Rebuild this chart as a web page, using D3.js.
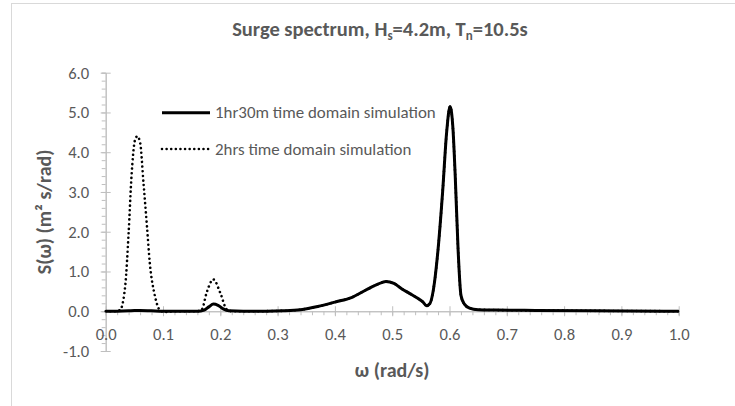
<!DOCTYPE html>
<html>
<head>
<meta charset="utf-8">
<style>
  body {
    margin: 0px;
    background: #fff
  }
  text {
    font-family: Carlito, "Liberation Sans", Arial, sans-serif;
    fill: #595959
  }
</style>
<script type="text/javascript" src="https://cdnjs.cloudflare.com/ajax/libs/d3/7.8.5/d3.min.js"></script>
</head>
<body>
<svg id="chart"></svg>
<script type="text/javascript">
let width = 735,
    height = 406

// 1hr30m run (solid)
let omega30 = [0, 0.02, 0.04, 0.05, 0.06, 0.08, 0.10, 0.13, 0.16, 0.172, 0.18, 0.188, 0.196, 0.205, 0.215, 0.24, 0.28,
               0.31, 0.34, 0.37, 0.40, 0.43, 0.455, 0.475, 0.489, 0.503, 0.517, 0.53, 0.543, 0.553, 0.560, 0.566,
               0.572, 0.580, 0.588, 0.595, 0.601, 0.606, 0.610, 0.615, 0.620, 0.626, 0.635, 0.65, 0.68, 0.75, 0.85, 1.0]
let spec30  = [0, 0, 0.01, 0.02, 0.02, 0.01, 0, 0, 0, 0.03, 0.11, 0.18, 0.15, 0.06, 0.01, 0, 0,
               0.01, 0.04, 0.12, 0.23, 0.35, 0.54, 0.68, 0.75, 0.70, 0.56, 0.45, 0.34, 0.24, 0.14, 0.2,
               0.55, 1.55, 3.0, 4.5, 5.15, 4.6, 3.4, 1.55, 0.4, 0.18, 0.08, 0.04, 0.03, 0.02, 0.01, 0]

// 2hrs run (dotted)
let omega2h = [0, 0.015, 0.025, 0.034, 0.040, 0.045, 0.051, 0.055, 0.060, 0.066, 0.072, 0.077, 0.086, 0.095, 0.103,
               0.12, 0.16, 0.168, 0.176, 0.188, 0.200, 0.211, 0.22, 0.26,
               0.31, 0.34, 0.37, 0.40, 0.43, 0.455, 0.475, 0.489, 0.503, 0.517, 0.53, 0.543, 0.553, 0.560, 0.566,
               0.572, 0.580, 0.588, 0.595, 0.601, 0.606, 0.610, 0.615, 0.620, 0.626, 0.635, 0.65, 0.68, 0.75, 0.85, 1.0]
let spec2h  = [0, 0, 0.03, 0.63, 1.97, 3.39, 4.3, 4.4, 4.25, 3.22, 2.14, 1.21, 0.38, 0.02, -0.02,
               0, 0, 0.05, 0.46, 0.8, 0.46, 0.05, 0, 0,
               0.01, 0.04, 0.12, 0.23, 0.35, 0.54, 0.68, 0.75, 0.70, 0.56, 0.45, 0.34, 0.24, 0.14, 0.2,
               0.55, 1.55, 3.0, 4.5, 5.15, 4.6, 3.4, 1.55, 0.4, 0.18, 0.08, 0.04, 0.03, 0.02, 0.01, 0]

let seriesNames = ['1hr30m time domain simulation', '2hrs time domain simulation']
let xTicks = d3.range(0, 1.0001, 0.1)
let yTicks = d3.range(-1, 6.0001, 1)

let svg = d3.select('#chart')
      .attr('width', width)
      .attr('height', height)

svg.append('rect')
   .attr('x', 11.5).attr('y', 3.5)
   .attr('width', 760).attr('height', 420)
   .attr('fill', '#fff')
   .attr('stroke', '#d9d9d9')

let x = d3.scaleLinear().domain([0, 1]).range([105.7, 678.7])
let y = d3.scaleLinear().domain([-1, 6]).range([351, 72.7])

let axisColor = '#bfbfbf'
let font = 'Carlito, "Liberation Sans", Arial, sans-serif'

// y axis: minor ticks outside, major ticks crossing
let yMinor = svg.append('g')
   .attr('transform', 'translate(' + x(0) + ',0)')
   .call(d3.axisLeft(y).tickValues(d3.range(-1, 6.0001, 0.2)).tickSize(4).tickFormat(''))
let yMajor = svg.append('g')
   .attr('transform', 'translate(' + x(0) + ',0)')
   .call(d3.axisLeft(y).tickValues(yTicks).tickSizeInner(5).tickSizeOuter(0).tickPadding(11.5)
          .tickFormat(function(d) { return d.toFixed(1) }))
yMajor.selectAll('.tick line').attr('x1', 5)

// x axis at y = 0
let xMinor = svg.append('g')
   .attr('transform', 'translate(0,' + y(0) + ')')
   .call(d3.axisBottom(x).tickValues(d3.range(0, 1.0001, 0.02)).tickSize(4).tickFormat(''))
let xMajor = svg.append('g')
   .attr('transform', 'translate(0,' + y(0) + ')')
   .call(d3.axisBottom(x).tickValues(xTicks).tickSizeInner(5).tickSizeOuter(0).tickPadding(12)
          .tickFormat(function(d) { return d.toFixed(1) }))
xMajor.selectAll('.tick line').attr('y1', -5)

svg.selectAll('.domain, .tick line').attr('stroke', axisColor)
svg.selectAll('.tick text')
   .attr('fill', '#595959')
   .style('font-size', '16.6px')
   .style('font-family', font)

let line = d3.line()
    .x(function(d) { return x(d[0]) })
    .y(function(d) { return y(d[1]) })
    .curve(d3.curveMonotoneX)

svg.append('path')
   .datum(d3.zip(omega30, spec30))
   .attr('fill', 'none')
   .attr('stroke', '#000')
   .attr('stroke-width', 3)
   .attr('stroke-linejoin', 'round')
   .attr('d', line)

let dots = '0.01 4.6'

svg.append('path')
   .datum(d3.zip(omega2h, spec2h))
   .attr('fill', 'none')
   .attr('stroke', '#000')
   .attr('stroke-width', 2.6)
   .attr('stroke-linecap', 'round')
   .attr('stroke-dasharray', dots)
   .attr('d', line)

// legend
let legend = svg.append('g')
let legendY = [112.7, 149]
legend.selectAll('line')
   .data(seriesNames)
   .enter()
   .append('line')
   .attr('x1', 162).attr('x2', 210)
   .attr('y1', function(d, i) { return legendY[i] })
   .attr('y2', function(d, i) { return legendY[i] })
   .attr('stroke', '#000')
   .attr('stroke-width', function(d, i) { return i == 0 ? 3 : 2.6 })
   .attr('stroke-linecap', function(d, i) { return i == 0 ? 'butt' : 'round' })
   .attr('stroke-dasharray', function(d, i) { return i == 0 ? null : dots })
legend.selectAll('text')
   .data(seriesNames)
   .enter()
   .append('text')
   .attr('x', 215)
   .attr('y', function(d, i) { return legendY[i] })
   .attr('dy', '0.34em')
   .style('font-size', '16.9px')
   .text(function(d) { return d })

// title
let title = svg.append('text')
   .attr('x', 380).attr('y', 36)
   .attr('text-anchor', 'middle')
   .style('font-size', '20.5px')
   .style('font-weight', 'bold')
title.append('tspan').text('Surge spectrum, H')
title.append('tspan').attr('dy', 4).style('font-size', '13px').text('s')
title.append('tspan').attr('dy', -4).text('=4.2m, T')
title.append('tspan').attr('dy', 4).style('font-size', '13px').text('n')
title.append('tspan').attr('dy', -4).text('=10.5s')

// axis titles
svg.append('text')
   .attr('x', (x(0) + x(1)) / 2).attr('y', 370)
   .attr('dy', '0.36em')
   .attr('text-anchor', 'middle')
   .style('font-size', '20px')
   .style('font-weight', 'bold')
   .text('ω (rad/s)')

svg.append('text')
   .attr('transform', 'translate(44,' + (y(-1) + y(6)) / 2 + ') rotate(-90)')
   .attr('dy', '0.36em')
   .attr('text-anchor', 'middle')
   .style('font-size', '20px')
   .style('font-weight', 'bold')
   .text('S(ω) (m² s/rad)')
</script>
</body>
</html>
